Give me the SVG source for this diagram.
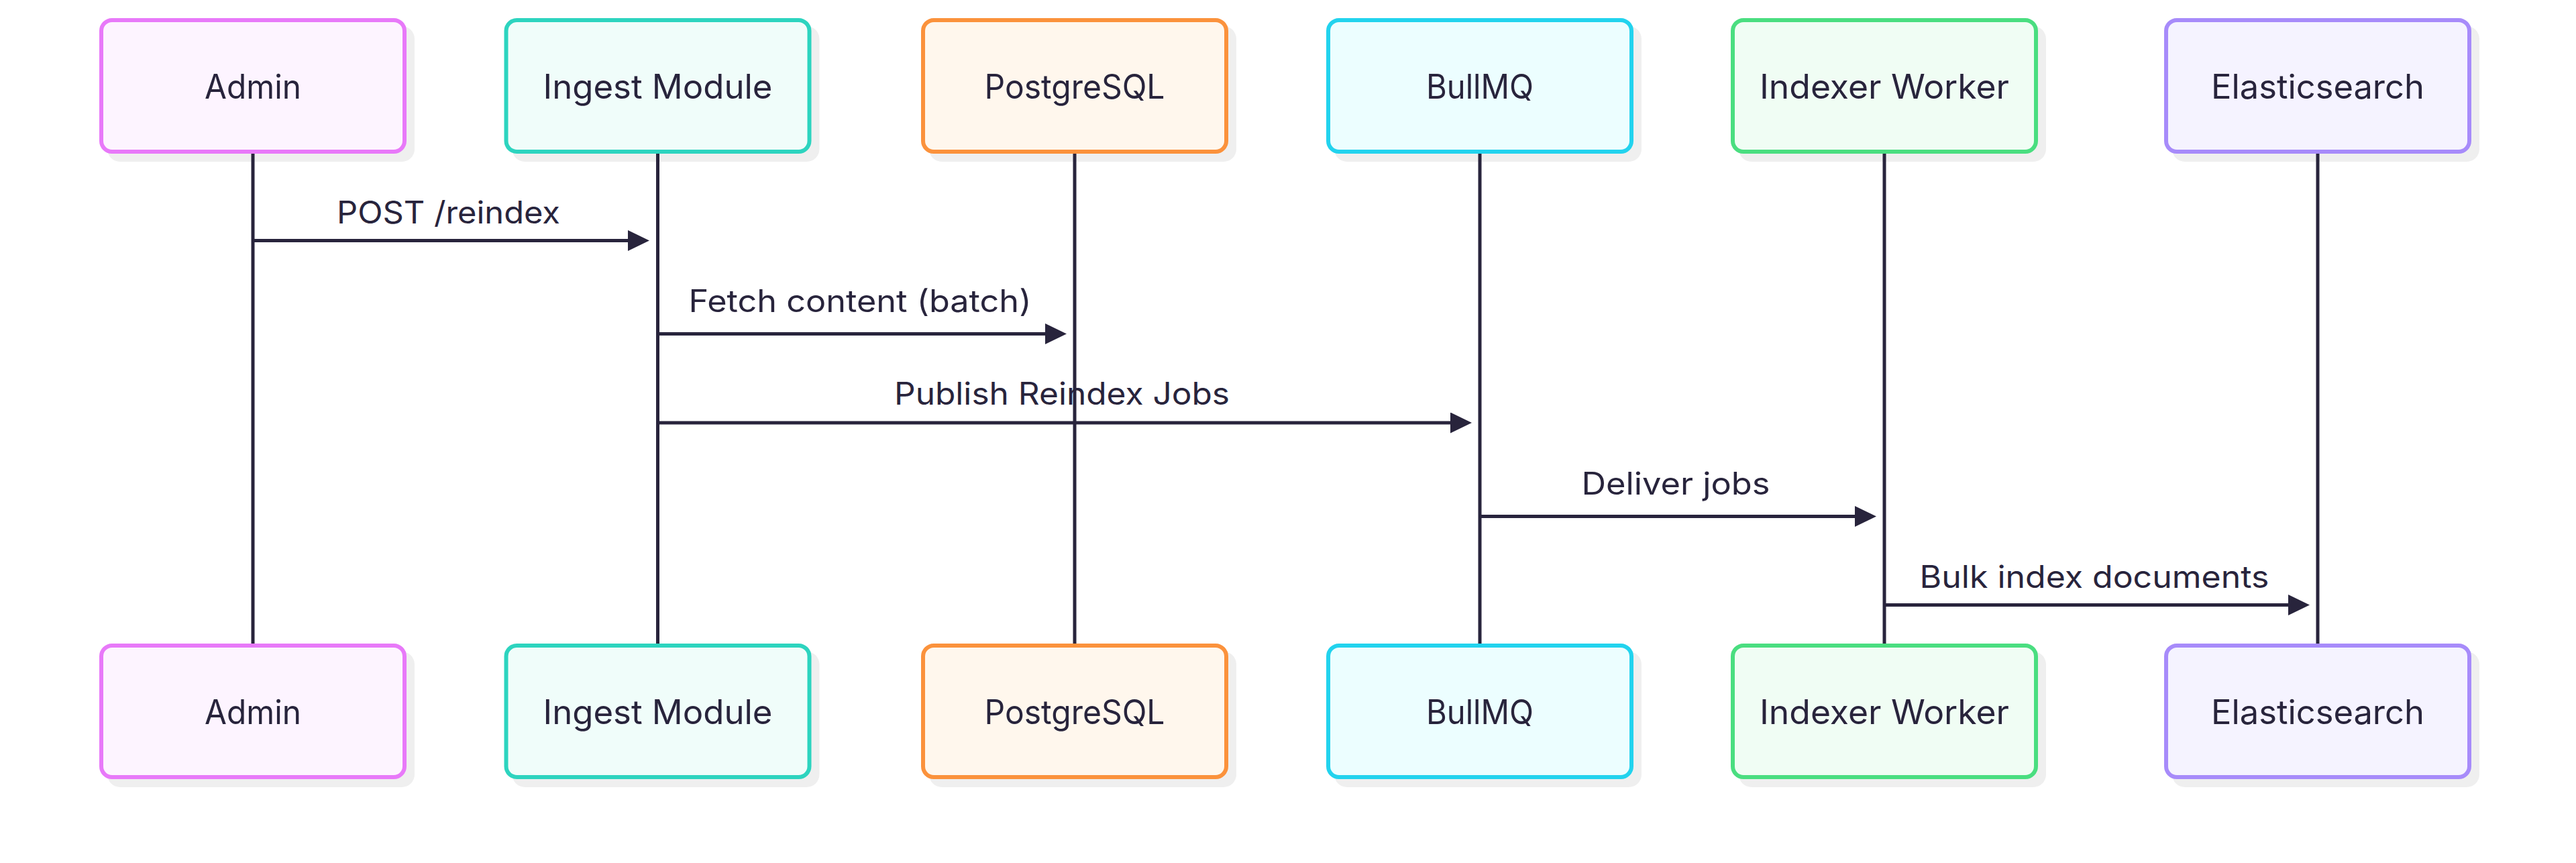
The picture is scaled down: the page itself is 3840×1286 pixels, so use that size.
<svg xmlns="http://www.w3.org/2000/svg" width="3840" height="1286" viewBox="0 0 3840 1286">
<style>
.shadow{fill:#efefef;}
.box{stroke-width:6;}
.lbl{font-family:Inter,"Noto Sans","Liberation Sans",sans-serif;font-size:50px;fill:#28243c;text-anchor:middle;}
.msg{font-family:Inter,"Noto Sans","Liberation Sans",sans-serif;font-size:46px;fill:#28243c;text-anchor:middle;}
.life{stroke:#28243c;stroke-width:5;fill:none;}
.arr{stroke:#28243c;stroke-width:5;fill:none;marker-end:url(#ah);}
</style>
<defs>
<marker id="ah" viewBox="0 0 32 31" refX="16" refY="15.5" markerWidth="32" markerHeight="31" markerUnits="userSpaceOnUse" orient="auto">
<path d="M0,0 L32,15.5 L0,31 z" fill="#28243c"/>
</marker>
</defs>
<rect width="3840" height="1286" fill="#ffffff"/>
<g id="admin">
<rect class="shadow" x="160" y="39" width="458" height="202" rx="19"/>
<rect class="box" x="151" y="30" width="452" height="196" rx="16" fill="#fdf4ff" stroke="#e879f9"/>
<text class="lbl" x="377" y="147" textLength="144" lengthAdjust="spacingAndGlyphs">Admin</text>
</g>
<g id="ingest">
<rect class="shadow" x="763.5" y="39" width="458" height="202" rx="19"/>
<rect class="box" x="754.5" y="30" width="452" height="196" rx="16" fill="#f0fdfa" stroke="#2dd4bf"/>
<text class="lbl" x="980.5" y="147" textLength="342" lengthAdjust="spacingAndGlyphs">Ingest Module</text>
</g>
<g id="postgres">
<rect class="shadow" x="1385" y="39" width="458" height="202" rx="19"/>
<rect class="box" x="1376" y="30" width="452" height="196" rx="16" fill="#fff7ed" stroke="#fb923c"/>
<text class="lbl" x="1602" y="147" textLength="269" lengthAdjust="spacingAndGlyphs">PostgreSQL</text>
</g>
<g id="bullmq">
<rect class="shadow" x="1989" y="39" width="458" height="202" rx="19"/>
<rect class="box" x="1980" y="30" width="452" height="196" rx="16" fill="#ecfeff" stroke="#22d3ee"/>
<text class="lbl" x="2206" y="147" textLength="160" lengthAdjust="spacingAndGlyphs">BullMQ</text>
</g>
<g id="indexer">
<rect class="shadow" x="2592" y="39" width="458" height="202" rx="19"/>
<rect class="box" x="2583" y="30" width="452" height="196" rx="16" fill="#f0fdf4" stroke="#4ade80"/>
<text class="lbl" x="2809" y="147" textLength="372" lengthAdjust="spacingAndGlyphs">Indexer Worker</text>
</g>
<g id="elastic">
<rect class="shadow" x="3238" y="39" width="458" height="202" rx="19"/>
<rect class="box" x="3229" y="30" width="452" height="196" rx="16" fill="#f5f3ff" stroke="#a78bfa"/>
<text class="lbl" x="3455" y="147" textLength="318" lengthAdjust="spacingAndGlyphs">Elasticsearch</text>
</g>
<g id="admin-bottom">
<rect class="shadow" x="160" y="971" width="458" height="202" rx="19"/>
<rect class="box" x="151" y="962" width="452" height="196" rx="16" fill="#fdf4ff" stroke="#e879f9"/>
<text class="lbl" x="377" y="1079" textLength="144" lengthAdjust="spacingAndGlyphs">Admin</text>
</g>
<g id="ingest-bottom">
<rect class="shadow" x="763.5" y="971" width="458" height="202" rx="19"/>
<rect class="box" x="754.5" y="962" width="452" height="196" rx="16" fill="#f0fdfa" stroke="#2dd4bf"/>
<text class="lbl" x="980.5" y="1079" textLength="342" lengthAdjust="spacingAndGlyphs">Ingest Module</text>
</g>
<g id="postgres-bottom">
<rect class="shadow" x="1385" y="971" width="458" height="202" rx="19"/>
<rect class="box" x="1376" y="962" width="452" height="196" rx="16" fill="#fff7ed" stroke="#fb923c"/>
<text class="lbl" x="1602" y="1079" textLength="269" lengthAdjust="spacingAndGlyphs">PostgreSQL</text>
</g>
<g id="bullmq-bottom">
<rect class="shadow" x="1989" y="971" width="458" height="202" rx="19"/>
<rect class="box" x="1980" y="962" width="452" height="196" rx="16" fill="#ecfeff" stroke="#22d3ee"/>
<text class="lbl" x="2206" y="1079" textLength="160" lengthAdjust="spacingAndGlyphs">BullMQ</text>
</g>
<g id="indexer-bottom">
<rect class="shadow" x="2592" y="971" width="458" height="202" rx="19"/>
<rect class="box" x="2583" y="962" width="452" height="196" rx="16" fill="#f0fdf4" stroke="#4ade80"/>
<text class="lbl" x="2809" y="1079" textLength="372" lengthAdjust="spacingAndGlyphs">Indexer Worker</text>
</g>
<g id="elastic-bottom">
<rect class="shadow" x="3238" y="971" width="458" height="202" rx="19"/>
<rect class="box" x="3229" y="962" width="452" height="196" rx="16" fill="#f5f3ff" stroke="#a78bfa"/>
<text class="lbl" x="3455" y="1079" textLength="318" lengthAdjust="spacingAndGlyphs">Elasticsearch</text>
</g>
<g id="lifelines">
<line class="life" x1="377" y1="229" x2="377" y2="959"/>
<line class="life" x1="980.5" y1="229" x2="980.5" y2="959"/>
<line class="life" x1="1602" y1="229" x2="1602" y2="959"/>
<line class="life" x1="2206" y1="229" x2="2206" y2="959"/>
<line class="life" x1="2809" y1="229" x2="2809" y2="959"/>
<line class="life" x1="3455" y1="229" x2="3455" y2="959"/>
</g>
<g id="connectors">
<line class="arr" x1="377" y1="358.5" x2="952" y2="358.5"/>
<text class="msg" x="668.5" y="333" textLength="333" lengthAdjust="spacingAndGlyphs">POST /reindex</text>
<line class="arr" x1="980.5" y1="497.5" x2="1574" y2="497.5"/>
<text class="msg" x="1282" y="465" textLength="511" lengthAdjust="spacingAndGlyphs">Fetch content (batch)</text>
<line class="arr" x1="980.5" y1="630" x2="2178" y2="630"/>
<text class="msg" x="1583" y="603" textLength="500" lengthAdjust="spacingAndGlyphs">Publish Reindex Jobs</text>
<line class="arr" x1="2206" y1="769.5" x2="2781" y2="769.5"/>
<text class="msg" x="2498" y="737" textLength="281" lengthAdjust="spacingAndGlyphs">Deliver jobs</text>
<line class="arr" x1="2809" y1="901.5" x2="3427" y2="901.5"/>
<text class="msg" x="3122" y="876" textLength="521" lengthAdjust="spacingAndGlyphs">Bulk index documents</text>
</g>
</svg>
